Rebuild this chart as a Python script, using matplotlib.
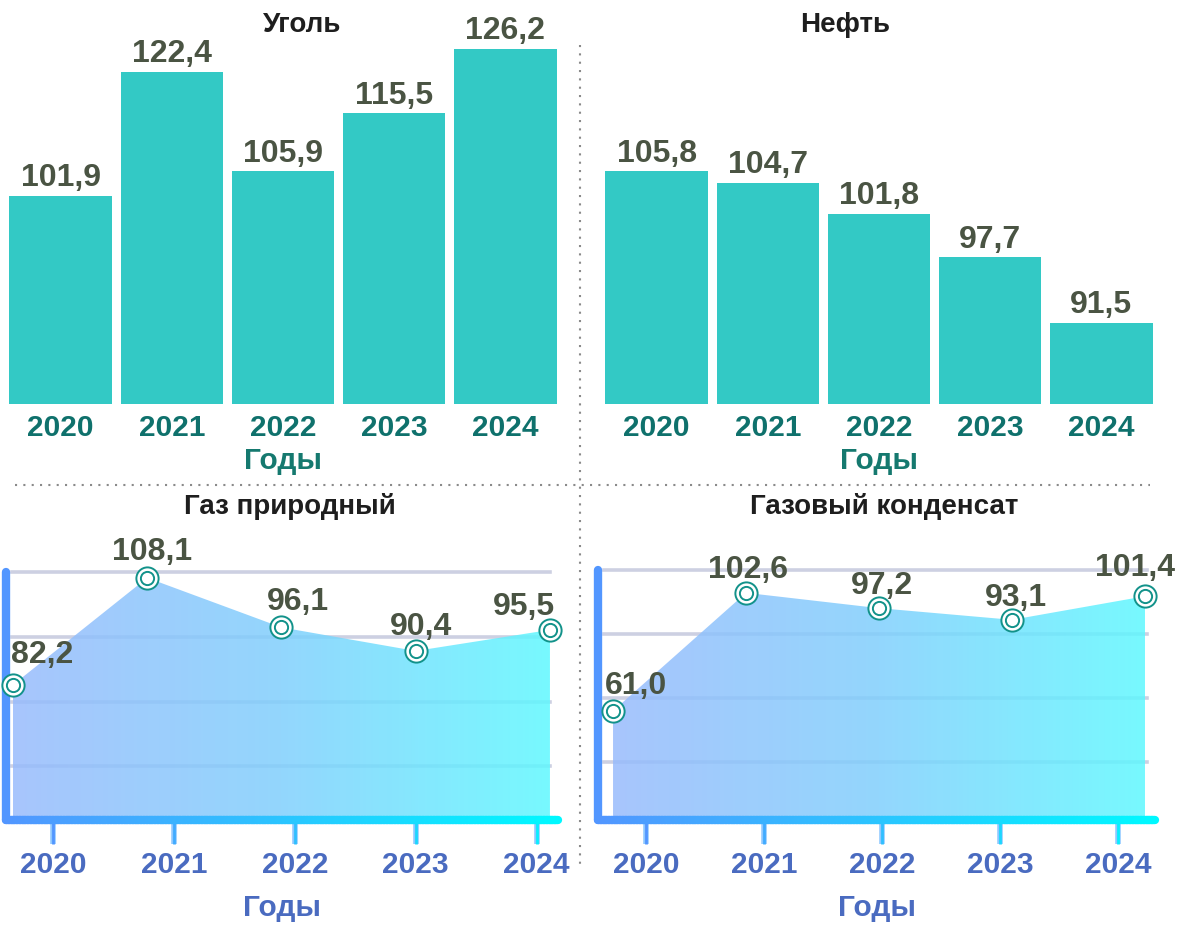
import numpy as np
import matplotlib
matplotlib.use('Agg')
import matplotlib.pyplot as plt
import matplotlib.transforms as mtransforms
from matplotlib.colors import LinearSegmentedColormap
from matplotlib.collections import LineCollection
from matplotlib.lines import Line2D
from matplotlib.patches import Polygon

# ---------------- data ----------------
years = ['2020', '2021', '2022', '2023', '2024']
coal = [101.9, 122.4, 105.9, 115.5, 126.2]
oil = [105.8, 104.7, 101.8, 97.7, 91.5]
gas = [82.2, 108.1, 96.1, 90.4, 95.5]
condensate = [61.0, 102.6, 97.2, 93.1, 101.4]
titles = ['Уголь', 'Нефть', 'Газ природный', 'Газовый конденсат']
xlabel_text = 'Годы'

plt.rcParams['font.family'] = ['Liberation Sans', 'DejaVu Sans']

W, H = 1182, 925
fig = plt.figure(figsize=(W / 100, H / 100), dpi=100)


def box(x0, y0, x1, y1):
    return [x0 / W, 1 - y1 / H, (x1 - x0) / W, (y1 - y0) / H]


def fmt(v):
    return f'{v:.1f}'.replace('.', ',')


VAL_COLOR = '#4a5443'
BAR_COLOR = '#33c9c5'
TEAL_TXT = '#0f716c'
BLUE_TXT = '#4a6bc0'
NUM_FS = 23
YEAR_FS = 21.5
LAB_FS = 21.5
TITLE_FS = 20


def bar_panel(rect, vals, ylim, title, title_xy):
    ax = fig.add_axes(rect)
    x = np.arange(len(vals))
    bars = ax.bar(x, vals, width=0.92, color=BAR_COLOR)
    ax.set_xlim(-0.5, len(vals) - 0.5)
    ax.set_ylim(*ylim)
    ax.bar_label(bars, labels=[fmt(v) for v in vals], padding=2,
                 fontsize=NUM_FS, fontweight='bold', color=VAL_COLOR)
    ax.set_xticks(x, years)
    ax.tick_params(axis='x', length=0, pad=7, labelsize=YEAR_FS, labelcolor=TEAL_TXT)
    for lab in ax.get_xticklabels():
        lab.set_fontweight('bold')
    ax.set_yticks([])
    ax.set_xlabel(xlabel_text, fontsize=LAB_FS, fontweight='bold', color='#15796f', labelpad=4)
    for s in ax.spines.values():
        s.set_visible(False)
    fig.text(title_xy[0] / W, 1 - title_xy[1] / H, title, ha='center', va='center',
             fontsize=TITLE_FS, fontweight='bold', color='#1e1e1e')
    return ax


fill_cmap = LinearSegmentedColormap.from_list('fill', ['#98bbfc', '#80cffd', '#5ff8ff'])
axis_cmap = LinearSegmentedColormap.from_list('axis', ['#5296ff', '#2bc4ff', '#00f8ff'])


def area_panel(rect, vals, xlim, ylim, grid, tickpos, title, title_xy, offsets_px):
    ax = fig.add_axes(rect)
    x = np.arange(len(vals))
    ax.set_xlim(*xlim)
    ax.set_ylim(*ylim)
    for s in ax.spines.values():
        s.set_visible(False)
    # gridlines (under the translucent fill)
    for g in grid:
        ax.axhline(g, xmin=0.01, xmax=0.985, color='#cdd0e2', lw=2.6, zorder=1)
    # gradient fill clipped to the area polygon
    verts = np.column_stack([np.r_[x, x[::-1]], np.r_[vals, [ylim[0]] * len(vals)]])
    poly = Polygon(verts, closed=True, facecolor='none', edgecolor='none', transform=ax.transData)
    ax.add_patch(poly)
    grad = np.linspace(0, 1, 256).reshape(1, -1)
    im = ax.imshow(grad, cmap=fill_cmap, aspect='auto', interpolation='bilinear',
                   extent=[x[0], x[-1], ylim[0], max(vals)], alpha=0.85, zorder=2)
    im.set_clip_path(poly)
    ax.set_xlim(*xlim)
    ax.set_ylim(*ylim)
    # axis lines
    top_frac = (grid[-1] - ylim[0]) / (ylim[1] - ylim[0])
    ax.plot([0, 0], [0, top_frac], transform=ax.transAxes, color='#5296ff', lw=6,
            solid_capstyle='round', clip_on=False, zorder=4)
    n = 200
    xs = np.linspace(0, 1, n + 1)
    segs = [[(xs[i], 0), (xs[i + 1], 0)] for i in range(n)]
    lc = LineCollection(segs, colors=axis_cmap(np.linspace(0, 1, n)), linewidths=6,
                        transform=ax.transAxes, clip_on=False, zorder=4, capstyle='round')
    ax.add_collection(lc)
    # tick marks drawn manually with gradient colours
    btr = mtransforms.blended_transform_factory(ax.transData, ax.transAxes)
    tick_len = 24 / (rect[3] * H)
    tcols = axis_cmap(np.linspace(0.0, 0.9, len(tickpos)))
    for tp, c in zip(tickpos, tcols):
        ax.plot([tp, tp], [0, -tick_len], transform=btr, color='#8ec8ff', lw=4,
                solid_capstyle='butt', clip_on=False, zorder=3)
        ax.plot([tp, tp], [0, -tick_len], transform=btr, color=c, lw=2,
                solid_capstyle='butt', clip_on=False, zorder=3)
    # markers
    ax.plot(x, vals, 'o', ms=16, mfc='white', mec='#12928a', mew=1.4, zorder=6, clip_on=False)
    ax.plot(x, vals, 'o', ms=9.5, mfc='none', mec='#12928a', mew=1.4, zorder=7, clip_on=False)
    # value labels
    for xi, v, (dx, dy) in zip(x, vals, offsets_px):
        ax.annotate(fmt(v), (xi, v), xytext=(dx * 0.72, dy * 0.72), textcoords='offset points',
                    ha='center', va='center', fontsize=NUM_FS, fontweight='bold',
                    color=VAL_COLOR, zorder=8, annotation_clip=False)
    # tick labels
    ax.set_xticks(tickpos, years)
    ax.tick_params(axis='x', length=0, pad=22, labelsize=YEAR_FS, labelcolor=BLUE_TXT)
    for lab in ax.get_xticklabels():
        lab.set_fontweight('bold')
    ax.set_yticks([])
    ax.set_xlabel(xlabel_text, fontsize=LAB_FS, fontweight='bold', color=BLUE_TXT, labelpad=11)
    fig.text(title_xy[0] / W, 1 - title_xy[1] / H, title, ha='center', va='center',
             fontsize=TITLE_FS, fontweight='bold', color='#1e1e1e')
    return ax


# top panels (bar charts)
bar_panel(box(5, 30, 561, 404), coal, (67.4, 129.3), titles[0], (302, 25))
bar_panel(box(601, 30, 1157, 404), oil, (83.9, 119.1), titles[1], (845, 25))

# bottom panels (area charts)
area_panel(box(6, 565, 558, 820), gas, (-0.052, 4.06), (49.5, 111.2),
           [62.6, 78.1, 93.8, 109.6], np.linspace(0.3, 3.9, 5), titles[2], (290, 507),
           [(29, 30), (5, 26), (16, 25), (5, 24), (-26, 23)])
area_panel(box(598, 565, 1155, 820), condensate, (-0.113, 4.075), (22.6, 112.4),
           [43.0, 65.6, 88.1, 110.6], np.linspace(0.25, 3.8, 5), titles[3], (884, 507),
           [(23, 25), (2, 23), (3, 22), (4, 22), (-10, 28)])

# dotted separators
fig.add_artist(Line2D([580 / W, 580 / W], [1 - 45 / H, 1 - 870 / H], transform=fig.transFigure,
                      color='#8a8a8a', lw=1.5, linestyle=(0, (1, 3))))
fig.add_artist(Line2D([15 / W, 1150 / W], [1 - 485 / H, 1 - 485 / H], transform=fig.transFigure,
                      color='#8a8a8a', lw=1.5, linestyle=(0, (1, 3))))

fig.savefig('out.png', dpi=100, facecolor='white')
